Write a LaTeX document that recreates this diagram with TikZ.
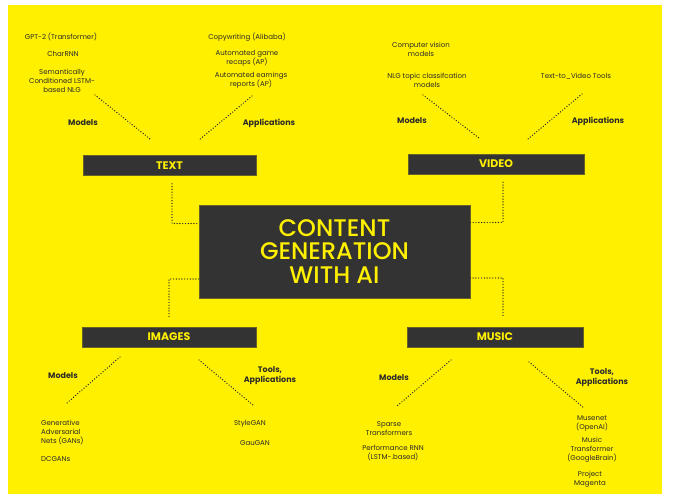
\documentclass[tikz,border=0pt]{standalone}
\usepackage{fontspec}
\setmainfont{Poppins}
\IfFontExistsTF{Poppins Medium}
  {\newfontfamily\titlefont{Poppins Medium}}
  {\newfontfamily\titlefont{Poppins}}
\usetikzlibrary{positioning}

\definecolor{aiyellow}{HTML}{FFF000}
\definecolor{aidark}{HTML}{333333}
\definecolor{aiink}{HTML}{2A2A2A}

\tikzset{
  hub/.style={fill=aidark, draw=aidark!75!aiyellow, line width=0.6pt,
    minimum width=271pt, minimum height=93pt, text=aiyellow, align=center,
    font=\titlefont\fontsize{24}{23.5}\selectfont},
  bar/.style={fill=aidark, draw=aidark!75!aiyellow, line width=0.6pt,
    minimum height=20pt, text=aiyellow, font=\fontsize{11}{12}\selectfont\bfseries},
  item/.style={text=aiink, align=center, inner sep=0pt, font=\fontsize{7}{9}\selectfont},
  branch/.style={text=aiink, align=center, inner sep=0pt, font=\fontsize{8}{10}\selectfont\bfseries},
  link/.style={draw=aiink, line width=1.4pt, line cap=round, dash pattern=on 0pt off 2.8pt}
}

\begin{document}
\begin{tikzpicture}[x=1pt, y=-1pt]
  % 0. page and yellow card
  \useasboundingbox (0,0) rectangle (678,500);
  \fill[white] (0,0) rectangle (678,500);
  \fill[aiyellow] (8,5) rectangle (662,494);

  % 1. central hub
  \node[hub] (hub) at (334.5,251.5) {CONTENT\\GENERATION\\WITH AI};

  % 2. the four topic bars
  \node[bar, minimum width=173pt] (text)   at (169.5,165.5) {TEXT};
  \node[bar, minimum width=176pt] (video)  at (496,164)     {VIDEO};
  \node[bar, minimum width=174pt] (images) at (169,337)     {IMAGES};
  \node[bar, minimum width=176pt] (music)  at (495,337)     {MUSIC};

  % 3. hub to bars
  \draw[link, shorten <=8pt] ([xshift=2.5pt]text.south) |- ([yshift=28pt]hub.west);
  \draw[link, shorten <=8pt] ([xshift=7pt]video.south) |- ([yshift=29pt]hub.east);
  \draw[link, shorten >=10pt] ([yshift=-27.5pt]hub.west) -| (images.north);
  \draw[link, shorten >=10pt] ([yshift=-26.5pt]hub.east) -| ([xshift=8pt]music.north);

  % 4. TEXT branch
  \node[item] (gpt)   at (61,37)  {GPT-2 (Transformer)};
  \node[item] (chrnn) at (63,54)  {CharRNN};
  \node[item] (lstm)  at (62,81)  {Semantically\\Conditioned LSTM-\\based NLG};
  \node[item] (copy)  at (247,37) {Copywriting (Alibaba)};
  \node[item] (recap) at (247,58.5) {Automated game\\recaps (AP)};
  \node[item] (earn)  at (251,80.5) {Automated earnings\\reports (AP)};
  \node[branch] (tmodels) at (83,123)  {Models};
  \node[branch] (tapps)   at (269,123) {Applications};
  \coordinate (tm1) at (95,95);  \coordinate (tm2) at (150,139);
  \coordinate (ta1) at (252,96); \coordinate (ta2) at (199,140);
  \draw[link] (tm1) -- (tm2);
  \draw[link] (ta1) -- (ta2);

  % 5. VIDEO branch
  \node[item] (cvis) at (421,49.5) {Computer vision\\models};
  \node[item] (nlgc) at (427,80.5) {NLG topic classifcation\\models};
  \node[item] (t2v)  at (576,76)   {Text-to\_Video Tools};
  \node[branch] (vmodels) at (412,121) {Models};
  \node[branch] (vapps)   at (598,121) {Applications};
  \coordinate (vm1) at (423,95); \coordinate (vm2) at (479,138);
  \coordinate (va1) at (582,94); \coordinate (va2) at (528,139);
  \draw[link] (vm1) -- (vm2);
  \draw[link] (va1) -- (va2);

  % 6. IMAGES branch
  \node[item, anchor=west, align=left] (gans)  at (41,432) {Generative\\Adversarial\\Nets (GANs)};
  \node[item, anchor=west] (dcgan) at (41,459) {DCGANs};
  \node[item] (style) at (250,424) {StyleGAN};
  \node[item] (gau)   at (255,443) {GauGAN};
  \node[branch] (imodels) at (63,376)  {Models};
  \node[branch] (iapps)   at (270,376) {Tools,\\Applications};
  \coordinate (im1) at (120,357); \coordinate (im2) at (67,403);
  \coordinate (ia1) at (199,360); \coordinate (ia2) at (253,405);
  \draw[link] (im1) -- (im2);
  \draw[link] (ia1) -- (ia2);

  % 7. MUSIC branch
  \node[item] (sparse)  at (389,428.5) {Sparse\\Transformers};
  \node[item] (perf)    at (393,452.5) {Performance RNN\\(LSTM-.based)};
  \node[item] (muse)    at (592,423.5) {Musenet\\(OpenAI)};
  \node[item] (mtrans)  at (592,450)   {Music\\Transformer\\(GoogleBrain)};
  \node[item] (magenta) at (590,479)   {Project\\Magenta};
  \node[branch] (mmodels) at (394,378) {Models};
  \node[branch] (mapps)   at (602,378) {Tools,\\Applications};
  \coordinate (mm1) at (451,360); \coordinate (mm2) at (397,406);
  \coordinate (ma1) at (529,362); \coordinate (ma2) at (584,408);
  \draw[link] (mm1) -- (mm2);
  \draw[link] (ma1) -- (ma2);
\end{tikzpicture}
\end{document}
